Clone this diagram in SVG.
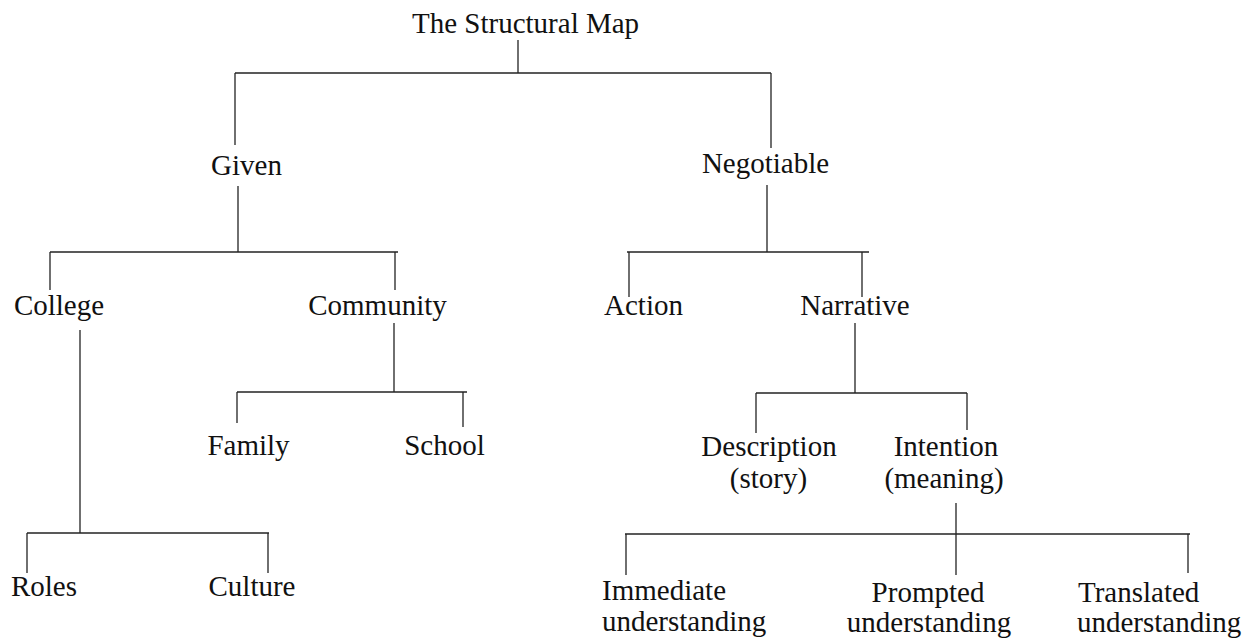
<svg xmlns="http://www.w3.org/2000/svg" width="1250" height="640" viewBox="0 0 1250 640">
<style>
.t{font-family:"Liberation Serif","Times New Roman",serif;font-size:29px;fill:#111}
.m{text-anchor:middle}
.c line{stroke:#222;stroke-width:1.3;fill:none}
</style>
<rect width="1250" height="640" fill="#fff"/>
<g class="c" id="connectors">
<line x1="518" y1="40" x2="518" y2="73"/>
<line x1="235" y1="73" x2="771" y2="73"/>
<line x1="235" y1="73" x2="235" y2="145"/>
<line x1="771" y1="73" x2="771" y2="148"/>
<line x1="238" y1="186" x2="238" y2="252"/>
<line x1="50" y1="252" x2="398" y2="252"/>
<line x1="50" y1="252" x2="50" y2="290"/>
<line x1="395" y1="252" x2="395" y2="290"/>
<line x1="80" y1="330" x2="80" y2="533"/>
<line x1="27" y1="533" x2="269" y2="533"/>
<line x1="27" y1="533" x2="27" y2="573"/>
<line x1="268" y1="533" x2="268" y2="573"/>
<line x1="394" y1="323" x2="394" y2="392"/>
<line x1="237" y1="392" x2="467" y2="392"/>
<line x1="237" y1="392" x2="237" y2="423"/>
<line x1="463" y1="392" x2="463" y2="427"/>
<line x1="767" y1="185" x2="767" y2="252"/>
<line x1="627" y1="252" x2="869" y2="252"/>
<line x1="629" y1="252" x2="629" y2="297"/>
<line x1="862" y1="252" x2="862" y2="297"/>
<line x1="855" y1="323" x2="855" y2="393"/>
<line x1="756" y1="393" x2="967" y2="393"/>
<line x1="756" y1="393" x2="756" y2="433"/>
<line x1="967" y1="393" x2="967" y2="430"/>
<line x1="956" y1="503" x2="956" y2="575"/>
<line x1="625" y1="534" x2="1190" y2="534"/>
<line x1="626" y1="534" x2="626" y2="575"/>
<line x1="1188" y1="534" x2="1188" y2="573"/>
</g>
<g id="n-root"><text class="t" x="412" y="33">The Structural Map</text></g>
<g id="n-given"><text class="t m" x="246.5" y="175">Given</text></g>
<g id="n-negotiable"><text class="t m" x="765.5" y="173">Negotiable</text></g>
<g id="n-college"><text class="t m" x="59" y="315">College</text></g>
<g id="n-community"><text class="t m" x="377.5" y="315">Community</text></g>
<g id="n-action"><text class="t m" x="643.5" y="315">Action</text></g>
<g id="n-narrative"><text class="t m" x="855" y="315">Narrative</text></g>
<g id="n-family"><text class="t m" x="248.5" y="455">Family</text></g>
<g id="n-school"><text class="t m" x="444.5" y="455">School</text></g>
<g id="n-description"><text class="t m" x="769" y="456">Description</text><text class="t m" x="768.5" y="488">(story)</text></g>
<g id="n-intention"><text class="t m" x="946" y="456">Intention</text><text class="t m" x="944" y="488">(meaning)</text></g>
<g id="n-roles"><text class="t m" x="44" y="596">Roles</text></g>
<g id="n-culture"><text class="t m" x="252" y="596">Culture</text></g>
<g id="n-immediate"><text class="t" x="602" y="600">Immediate</text><text class="t" x="602" y="631">understanding</text></g>
<g id="n-prompted"><text class="t m" x="928" y="602">Prompted</text><text class="t m" x="929" y="632">understanding</text></g>
<g id="n-translated"><text class="t" x="1078" y="602">Translated</text><text class="t" x="1077" y="632">understanding</text></g>
</svg>
